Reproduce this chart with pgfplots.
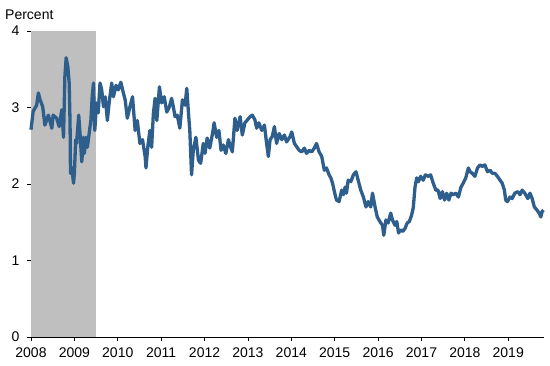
\documentclass[border=0pt]{standalone}
\usepackage{fontspec}
\setmainfont{Liberation Sans}
\usepackage{pgfplots}
\pgfplotsset{compat=1.18}
\definecolor{linecol}{RGB}{46,94,140}
\definecolor{recgray}{RGB}{191,191,191}
\begin{document}
\begin{tikzpicture}[x=1bp,y=1bp]
\path[use as bounding box] (0,0) rectangle (550,365);
\begin{axis}[
  at={(31bp,28bp)}, anchor=south west,
  scale only axis, width=513.3bp, height=306bp,
  xmin=2008, xmax=2019.83, ymin=0, ymax=4,
  axis lines=left, axis line style={black, line width=0.8bp, -},
  xtick={2008,...,2019}, ytick={0,1,2,3,4},
  xticklabel={\pgfmathprintnumber[1000 sep={}]{\tick}},
  /pgf/number format/assume math mode=true,
  tick align=outside, major tick length=4bp,
  tick style={black, line width=0.8bp},
  ticklabel style={font=\fontsize{14bp}{16bp}\selectfont, text=black},
  xticklabel style={yshift=-3bp},
  yticklabel style={xshift=-4bp},
  clip=false,
]
\addplot[draw=none, fill=recgray] coordinates {(2008,4) (2009.5,4)} \closedcycle;
\addplot[linecol, line width=3.3bp, line join=round] coordinates {
(2008.00,2.71)(2008.05,2.95)(2008.13,3.03)(2008.17,3.19)(2008.21,3.10)(2008.27,3.01)
(2008.32,2.77)(2008.40,2.90)(2008.48,2.73)(2008.51,2.90)(2008.59,2.86)(2008.65,2.75)
(2008.71,2.97)(2008.75,2.61)(2008.78,3.40)(2008.81,3.65)(2008.85,3.53)(2008.88,3.32)
(2008.90,2.80)(2008.91,2.14)(2008.94,2.22)(2008.98,2.01)(2009.00,2.14)(2009.03,2.58)
(2009.05,2.53)(2009.10,2.90)(2009.13,2.66)(2009.17,2.29)(2009.21,2.61)(2009.23,2.40)
(2009.27,2.61)(2009.30,2.48)(2009.34,2.66)(2009.38,2.83)(2009.41,3.14)(2009.44,3.32)
(2009.47,2.70)(2009.51,3.06)(2009.55,2.93)(2009.59,3.32)(2009.63,3.23)(2009.67,3.01)
(2009.71,3.14)(2009.76,2.83)(2009.80,3.06)(2009.86,3.32)(2009.90,3.14)(2009.96,3.29)
(2010.01,3.23)(2010.07,3.33)(2010.12,3.21)(2010.17,3.10)(2010.22,2.86)(2010.28,3.01)
(2010.34,3.14)(2010.40,2.70)(2010.45,2.83)(2010.51,2.53)(2010.57,2.58)(2010.63,2.36)
(2010.65,2.21)(2010.69,2.48)(2010.74,2.70)(2010.78,2.48)(2010.82,2.92)(2010.86,3.12)
(2010.90,2.83)(2010.96,3.27)(2011.01,3.06)(2011.07,3.14)(2011.13,2.94)(2011.19,3.01)
(2011.24,3.12)(2011.28,3.01)(2011.32,2.88)(2011.37,2.90)(2011.43,2.73)(2011.49,3.10)
(2011.55,3.03)(2011.59,3.25)(2011.63,2.92)(2011.66,2.70)(2011.70,2.12)(2011.74,2.44)
(2011.80,2.61)(2011.86,2.31)(2011.91,2.27)(2011.97,2.53)(2012.01,2.40)(2012.06,2.60)
(2012.12,2.47)(2012.19,2.68)(2012.22,2.80)(2012.28,2.61)(2012.33,2.70)(2012.38,2.44)
(2012.43,2.51)(2012.49,2.40)(2012.55,2.58)(2012.59,2.50)(2012.64,2.42)(2012.70,2.86)
(2012.75,2.70)(2012.82,2.88)(2012.87,2.64)(2012.93,2.80)(2012.99,2.84)(2013.05,2.88)
(2013.10,2.90)(2013.16,2.84)(2013.20,2.73)(2013.25,2.80)(2013.32,2.70)(2013.38,2.77)
(2013.43,2.53)(2013.47,2.36)(2013.51,2.58)(2013.56,2.62)(2013.61,2.75)(2013.66,2.53)
(2013.72,2.66)(2013.78,2.58)(2013.84,2.64)(2013.89,2.55)(2013.97,2.62)(2014.01,2.68)
(2014.07,2.53)(2014.12,2.49)(2014.18,2.44)(2014.24,2.42)(2014.30,2.47)(2014.35,2.40)
(2014.41,2.44)(2014.47,2.42)(2014.53,2.47)(2014.58,2.53)(2014.64,2.42)(2014.70,2.36)
(2014.76,2.18)(2014.81,2.21)(2014.87,2.12)(2014.91,2.08)(2014.95,2.01)(2015.00,1.88)
(2015.04,1.79)(2015.10,1.77)(2015.16,1.92)(2015.20,1.86)(2015.24,1.96)(2015.27,1.88)
(2015.31,2.05)(2015.37,2.03)(2015.43,2.12)(2015.49,2.16)(2015.54,2.05)(2015.60,1.92)
(2015.66,1.83)(2015.72,1.70)(2015.77,1.77)(2015.83,1.70)(2015.87,1.88)(2015.93,1.70)
(2015.98,1.57)(2016.04,1.51)(2016.10,1.46)(2016.13,1.33)(2016.18,1.53)(2016.23,1.49)
(2016.29,1.62)(2016.33,1.53)(2016.39,1.46)(2016.43,1.51)(2016.47,1.36)(2016.52,1.40)
(2016.57,1.38)(2016.62,1.42)(2016.67,1.49)(2016.72,1.51)(2016.77,1.59)(2016.81,1.69)
(2016.85,1.96)(2016.89,2.08)(2016.93,2.03)(2016.98,2.10)(2017.04,2.05)(2017.09,2.12)
(2017.16,2.10)(2017.21,2.12)(2017.27,2.01)(2017.33,1.92)(2017.38,1.92)(2017.43,1.81)
(2017.48,1.90)(2017.53,1.79)(2017.58,1.88)(2017.63,1.79)(2017.68,1.88)(2017.73,1.86)
(2017.79,1.88)(2017.85,1.83)(2017.91,1.96)(2017.96,2.01)(2018.02,2.08)(2018.08,2.21)
(2018.12,2.16)(2018.17,2.14)(2018.23,2.10)(2018.29,2.21)(2018.35,2.25)(2018.40,2.23)
(2018.46,2.25)(2018.52,2.16)(2018.58,2.18)(2018.63,2.14)(2018.69,2.14)(2018.75,2.10)
(2018.81,2.05)(2018.86,2.01)(2018.91,1.92)(2018.94,1.79)(2018.98,1.77)(2019.04,1.83)
(2019.09,1.81)(2019.15,1.88)(2019.22,1.90)(2019.27,1.86)(2019.32,1.92)(2019.38,1.88)
(2019.45,1.81)(2019.50,1.88)(2019.55,1.81)(2019.60,1.70)(2019.66,1.66)(2019.71,1.62)
(2019.75,1.57)(2019.78,1.64)(2019.81,1.66)
};
\end{axis}
\node[anchor=base west, font=\fontsize{14bp}{16bp}\selectfont, inner sep=0pt] at (5,346) {Percent};
\end{tikzpicture}
\end{document}
